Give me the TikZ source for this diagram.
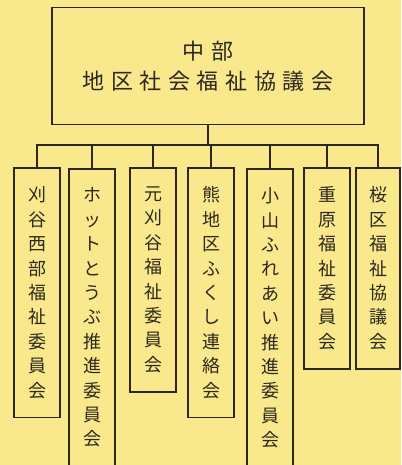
\documentclass[tikz,border=0pt]{standalone}
\usepackage{fontspec}
\newfontfamily\jpfont{Noto Sans CJK JP}
\newfontfamily\jpwide{Noto Sans CJK JP}[LetterSpace=30]

\definecolor{paper}{RGB}{250,233,140}
\definecolor{ink}{RGB}{45,40,30}

\tikzset{
  orgline/.style={line width=1.6pt, draw=ink},
  topbox/.style={orgline, minimum width=312pt, minimum height=117pt,
    align=center, text=ink, font={\jpwide\fontsize{22}{30}\selectfont}},
  subbox/.style={orgline, anchor=north, minimum width=46pt, inner ysep=19pt,
    align=center, text=ink, font={\jpfont\fontsize{18}{24.4}\selectfont}},
}

\begin{document}
\begin{tikzpicture}[x=1pt, y=-1pt]
  \fill[paper] (0,0) rectangle (401,465);
  \useasboundingbox (0,0) rectangle (401,465);

  \node[topbox] (chubu) at (208,66) {中部\\地区社会福祉協議会};
  \coordinate (hub) at (208,145);

  % seven member groups
  \node[subbox] (kariyaw) at (37,167) {刈\\谷\\西\\部\\福\\祉\\委\\員\\会};
  \node[subbox] (hotto) at (92,168) {ホ\\ッ\\ト\\と\\う\\ぶ\\推\\進\\委\\員\\会};
  \node[subbox] (motok) at (153,167) {元\\刈\\谷\\福\\祉\\委\\員\\会};
  \node[subbox] (kuma) at (211,167) {熊\\地\\区\\ふ\\く\\し\\連\\絡\\会};
  \node[subbox] (koyama) at (270,168) {小\\山\\ふ\\れ\\あ\\い\\推\\進\\委\\員\\会};
  \node[subbox] (shigeh) at (327,167) {重\\原\\福\\祉\\委\\員\\会};
  \node[subbox, minimum width=44pt] (sakura) at (378,167) {桜\\区\\福\\祉\\協\\議\\会};

  \draw[orgline] (chubu.south) -- (hub);
  \foreach \g in {kariyaw,hotto,motok,kuma,koyama,shigeh,sakura}
    \draw[orgline] (\g.north) |- (hub);
\end{tikzpicture}
\end{document}
